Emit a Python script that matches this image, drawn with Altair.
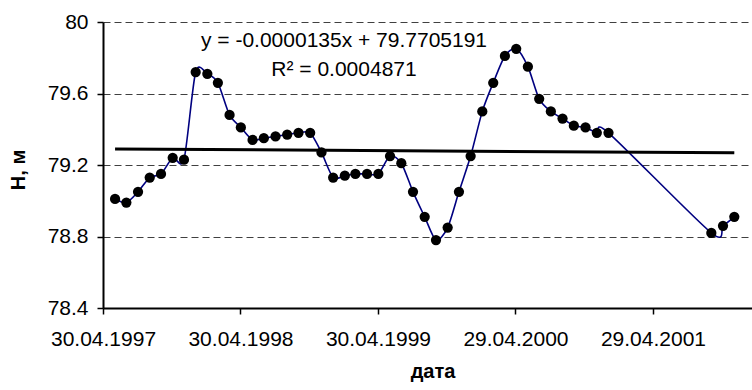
import datetime as dt

import altair as alt
import pandas as pd

# Monthly water level observations
dates = [
    "1997-06-01", "1997-07-01", "1997-08-01", "1997-09-01", "1997-10-01",
    "1997-11-01", "1997-12-01", "1998-01-01", "1998-02-01", "1998-03-01",
    "1998-04-01", "1998-05-01", "1998-06-01", "1998-07-01", "1998-08-01",
    "1998-09-01", "1998-10-01", "1998-11-01", "1998-12-01", "1999-01-01",
    "1999-02-01", "1999-03-01", "1999-04-01", "1999-05-01", "1999-06-01",
    "1999-07-01", "1999-08-01", "1999-09-01", "1999-10-01", "1999-11-01",
    "1999-12-01", "2000-01-01", "2000-02-01", "2000-03-01", "2000-04-01",
    "2000-05-01", "2000-06-01", "2000-07-01", "2000-08-01", "2000-09-01",
    "2000-10-01", "2000-11-01", "2000-12-01", "2001-01-01",
    "2001-10-01", "2001-11-01", "2001-12-01",
]
levels = [
    79.01, 78.99, 79.05, 79.13, 79.15,
    79.24, 79.23, 79.72, 79.71, 79.66,
    79.48, 79.41, 79.34, 79.35, 79.36,
    79.37, 79.38, 79.38, 79.27, 79.13,
    79.14, 79.15, 79.15, 79.15, 79.25,
    79.21, 79.05, 78.91, 78.78, 78.85,
    79.05, 79.25, 79.50, 79.66, 79.81,
    79.85, 79.75, 79.57, 79.50, 79.46,
    79.42, 79.41, 79.38, 79.38,
    78.82, 78.86, 78.91,
]

# Linear trend (x is the spreadsheet serial date number)
slope = -0.0000135
intercept = 79.7705191
r_squared = 0.0004871

x_tick_labels = ["30.04.1997", "30.04.1998", "30.04.1999", "29.04.2000", "29.04.2001"]
y_ticks = [78.4, 78.8, 79.2, 79.6, 80.0]
x_start = "1997-04-30"
x_end = "2002-01-17"

FONT = "Liberation Sans"

df = pd.DataFrame({"date": dates, "level": levels})

epoch = dt.date(1899, 12, 30)


def serial(day):
    return (dt.date.fromisoformat(day) - epoch).days


trend_df = pd.DataFrame({
    "date": [dates[0], dates[-1]],
    "level": [slope * serial(dates[0]) + intercept, slope * serial(dates[-1]) + intercept],
})


def to_dt(s):
    d = dt.date.fromisoformat(s)
    return alt.DateTime(year=d.year, month=d.month, date=d.day, utc=True)


tick_values = []
for lab in x_tick_labels:
    dd, mm, yy = lab.split(".")
    tick_values.append(alt.DateTime(year=int(yy), month=int(mm), date=int(dd), utc=True))

x_scale = alt.Scale(type="utc", domain=[to_dt(x_start), to_dt(x_end)])
y_scale = alt.Scale(domain=[78.4, 80.0], nice=False, zero=False)

x_axis = alt.Axis(
    values=tick_values, format="%d.%m.%Y", labelFont=FONT, labelFontSize=21,
    labelColor="black", labelFlush=False, labelOverlap=False, labelPadding=14,
    tickSize=6, tickWidth=1.5, tickColor="black", domainColor="black", domainWidth=2,
    grid=False, title="дата", titleFont=FONT, titleFontSize=20, titleFontWeight="bold",
    titleColor="black", titleX=329.5, titleY=69.5, titleAlign="center",
    titleBaseline="alphabetic",
)
y_axis = alt.Axis(
    values=y_ticks, format="~g", labelFont=FONT, labelFontSize=21, labelColor="black",
    labelPadding=9, tickSize=6, tickWidth=1.5, tickColor="black", domainColor="black",
    domainWidth=2, grid=True, gridDash=[7, 4], gridColor="#404040", gridWidth=1,
    title="Н, м", titleFont=FONT, titleFontSize=20, titleFontWeight="bold",
    titleColor="black", titleAngle=-90, titleX=-79, titleY=147.5, titleAlign="center",
    titleBaseline="alphabetic",
)

x_enc = alt.X("date:T", scale=x_scale, axis=x_axis)
y_enc = alt.Y("level:Q", scale=y_scale, axis=y_axis)

line = alt.Chart(df).mark_line(
    color="#000080", strokeWidth=1.6, interpolate="cardinal", tension=0.2
).encode(x=x_enc, y=y_enc)

trend = alt.Chart(trend_df).mark_line(color="black", strokeWidth=3).encode(
    x=alt.X("date:T", scale=x_scale), y=alt.Y("level:Q", scale=y_scale)
)

points = alt.Chart(df).mark_circle(color="black", opacity=1, size=105).encode(
    x=alt.X("date:T", scale=x_scale), y=alt.Y("level:Q", scale=y_scale)
)

# Trend equation label, one text line per chart
label_df = pd.DataFrame({
    "text": [f"y = {slope:.7f}x + {intercept:.7f}", f"R² = {r_squared:.7f}"],
    "row": [0, 1],
})


def label_line(row, y_px):
    return alt.Chart(label_df).transform_filter(
        alt.datum.row == row
    ).mark_text(
        font=FONT, fontSize=21, fontWeight="normal", color="black", align="center",
        baseline="alphabetic"
    ).encode(x=alt.value(241), y=alt.value(y_px), text="text:N")


chart = alt.layer(line, trend, points, label_line(0, 25), label_line(1, 54)).properties(
    width=649,
    height=286,
    autosize=alt.AutoSizeParams(type="none"),
    padding={"left": 103, "top": 22, "right": 0, "bottom": 82},
    background="white",
).configure_view(stroke=None)

chart.save("out.html", embed_options={"renderer": "svg", "actions": False})
